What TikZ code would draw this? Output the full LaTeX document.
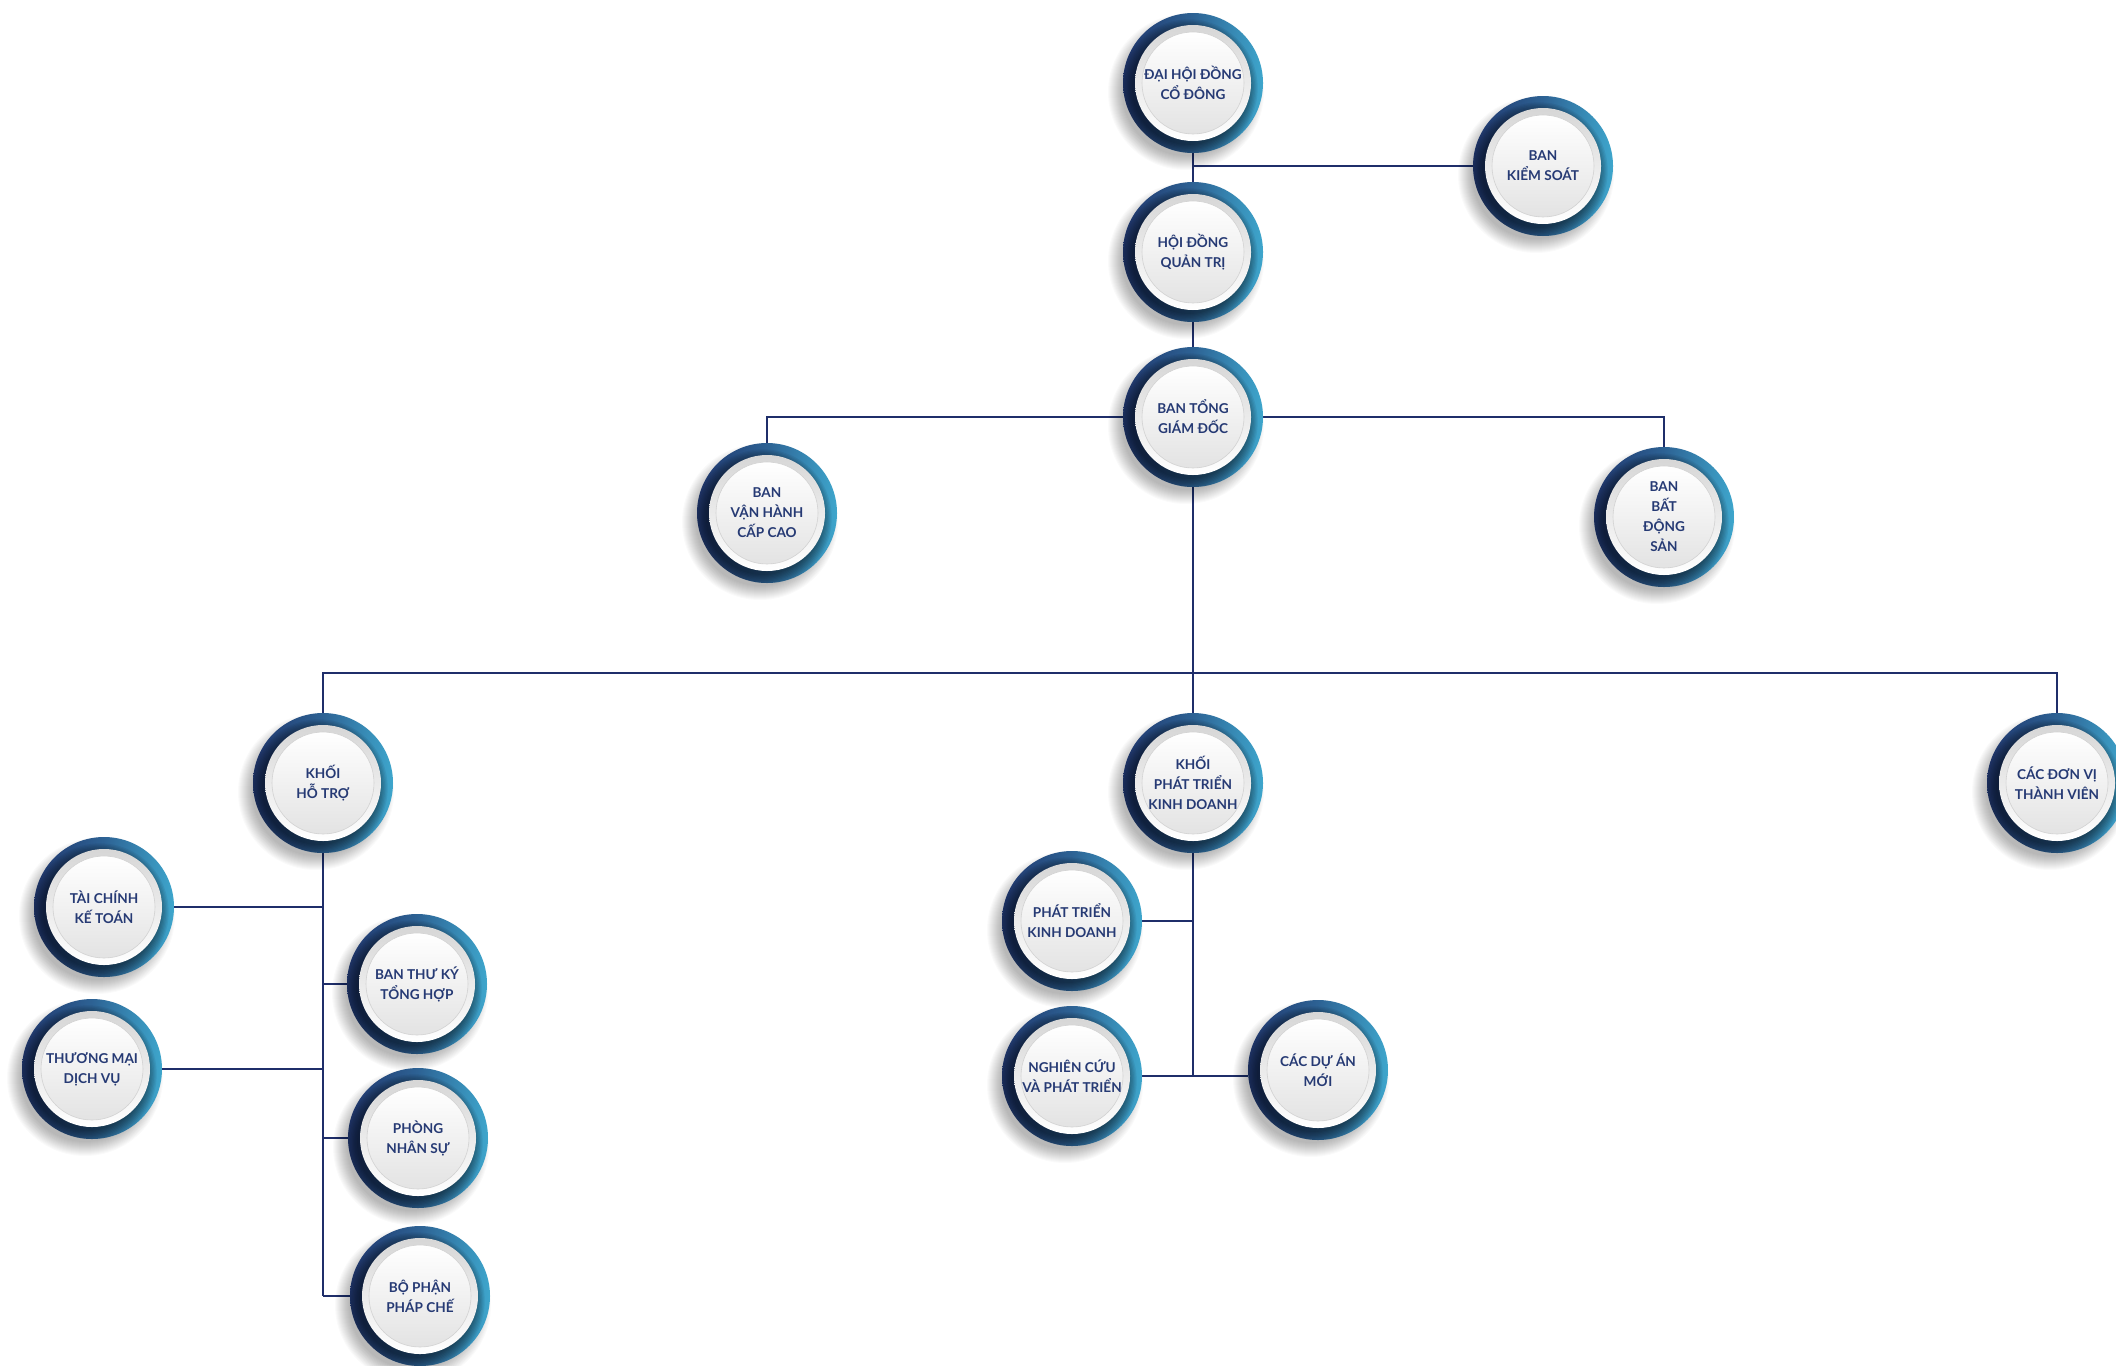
\documentclass[tikz,border=0pt]{standalone}
\usepackage{fontspec}
\setmainfont{Lato}
\usetikzlibrary{backgrounds,calc}

\definecolor{ringdark}{RGB}{32,54,108}
\definecolor{ringmid}{RGB}{45,98,148}
\definecolor{ringlight}{RGB}{62,166,204}
\definecolor{linknavy}{RGB}{31,46,106}
\definecolor{labelnavy}{RGB}{38,58,116}

\tikzset{
  unit/.style={circle, minimum size=140pt, inner sep=0pt, align=center,
    text=labelnavy, font=\fontsize{13.6}{20}\selectfont\bfseries},
  link/.style={draw=linknavy, line width=2pt},
}

% one organisation unit: shadow, gradient ring, bevelled disc and label
\newcommand\orgunit[3]{%
  \begin{scope}[shift={#2}]
    \foreach \k in {1,...,15}
      \fill[black, opacity=0.018] (-7,9) circle ({63pt+\k pt});
    \shade[left color=ringdark, right color=ringlight, middle color=ringmid]
      (0,0) circle (70pt);
    \begin{scope}
      \clip (0,0) circle (70pt);
      \foreach \k in {0,...,9}
        \fill[black, opacity=0.06] (-4,5) circle ({57pt+1.3*\k pt});
    \end{scope}
    \shade[top color=gray!32, bottom color=white] (0,0) circle (58pt);
    \shade[top color=white, bottom color=gray!22] (0,0) circle (51pt);
    \draw[gray!35, line width=0.6pt] (0,0) circle (51pt);
  \end{scope}
  \node[unit] (#1) at #2 {#3};
}

\begin{document}
\begin{tikzpicture}[x=1pt, y=-1pt]
\useasboundingbox (0,0) rectangle (2116,1365);

\orgunit{dhdcd}{(1193,83)}{ĐẠI HỘI ĐỒNG\\CỔ ĐÔNG}
\orgunit{bks}{(1543,166)}{BAN\\KIỂM SOÁT}
\orgunit{hdqt}{(1193,252)}{HỘI ĐỒNG\\QUẢN TRỊ}
\orgunit{btgd}{(1193,417)}{BAN TỔNG\\GIÁM ĐỐC}
\orgunit{bvh}{(767,513)}{BAN\\VẬN HÀNH\\CẤP CAO}
\orgunit{bbds}{(1664,517)}{BAN\\BẤT\\ĐỘNG\\SẢN}
\orgunit{kht}{(323,783)}{KHỐI\\HỖ TRỢ}
\orgunit{kptkd}{(1193,783)}{KHỐI\\PHÁT TRIỂN\\KINH DOANH}
\orgunit{cdvtv}{(2057,783)}{CÁC ĐƠN VỊ\\THÀNH VIÊN}
\orgunit{tckt}{(104,907)}{TÀI CHÍNH\\KẾ TOÁN}
\orgunit{btkth}{(417,984)}{BAN THƯ KÝ\\TỔNG HỢP}
\orgunit{tmdv}{(92,1069)}{THƯƠNG MẠI\\DỊCH VỤ}
\orgunit{pns}{(418,1138)}{PHÒNG\\NHÂN SỰ}
\orgunit{bppc}{(420,1296)}{BỘ PHẬN\\PHÁP CHẾ}
\orgunit{ptkd}{(1072,921)}{PHÁT TRIỂN\\KINH DOANH}
\orgunit{nckpt}{(1072,1076)}{NGHIÊN CỨU\\VÀ PHÁT TRIỂN}
\orgunit{cdam}{(1318,1070)}{CÁC DỰ ÁN\\MỚI}

\coordinate (trunk) at (0,673);

\begin{scope}[on background layer]
  \fill[white] (0,0) rectangle (2116,1365);
  % governance chain
  \draw[link] (dhdcd) -- (hdqt);
  \draw[link] (bks.west) -- (bks.west -| dhdcd);
  \draw[link] (hdqt) -- (btgd);
  \draw[link] (btgd.west) -| (bvh.north);
  \draw[link] (btgd.east) -| (bbds.north);
  % division bus
  \draw[link] (btgd.south) -- (btgd |- trunk);
  \draw[link] (kht.north) |- (cdvtv.north |- trunk) -- (cdvtv.north);
  \draw[link] (kptkd.north) -- (kptkd |- trunk);
  % support division
  \draw[link] (kht.south) -- (kht |- bppc);
  \draw[link] (tckt.east) -- (tckt -| kht);
  \draw[link] (btkth.west) -- (btkth -| kht);
  \draw[link] (tmdv.east) -- (tmdv -| kht);
  \draw[link] (pns.west) -- (pns -| kht);
  \draw[link] (bppc.west) -- (bppc -| kht);
  % business development division
  \draw[link] (kptkd.south) -- (kptkd |- nckpt);
  \draw[link] (ptkd.east) -- (ptkd -| kptkd);
  \draw[link] (nckpt.east) -- (nckpt -| cdam.west);
\end{scope}
\end{tikzpicture}
\end{document}
